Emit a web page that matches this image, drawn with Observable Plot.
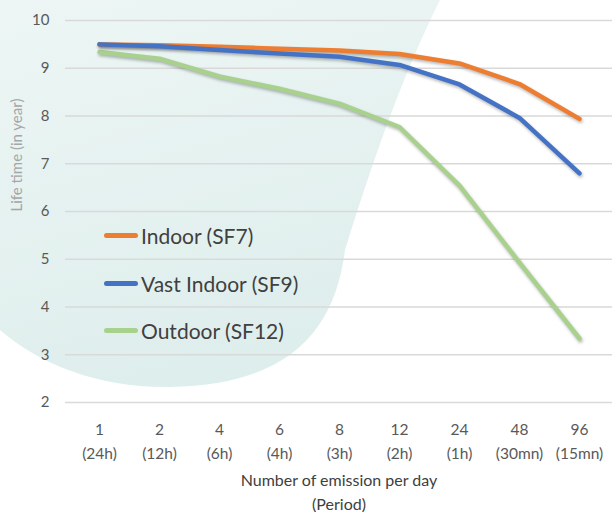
<!DOCTYPE html>
<html>
<head>
<meta charset="utf-8">
<script src="https://cdn.jsdelivr.net/npm/d3@7"></script>
<script src="https://cdn.jsdelivr.net/npm/@observablehq/plot@0.6"></script>
<style>
  html, body { margin: 0; padding: 0; background: #ffffff; }
  #wrap { position: relative; width: 612px; height: 512px; overflow: hidden; font-family: Lato, "Open Sans", sans-serif; }
  #bg { position: absolute; left: 0; top: 0; }
  #chart { position: absolute; left: 0; top: 0; }
  #chart svg { background: transparent !important; }
  #chart g[aria-label="line"] path { filter: drop-shadow(1px 2px 1.5px rgba(0,0,0,0.28)); }
  .legend { position: absolute; left: 104px; top: 0; }
  .item { position: absolute; left: 0; white-space: nowrap; display: flex; align-items: center; font-size: 21px; color: #404040; }
  .sw { width: 34px; height: 5px; border-radius: 2.5px; margin-right: 3px; }
</style>
</head>
<body>
<div id="wrap">
  <svg id="bg" width="612" height="512">
    <defs>
      <linearGradient id="g" x1="0" y1="0" x2="0.3" y2="1">
        <stop offset="0" stop-color="#edf6f5"/>
        <stop offset="1" stop-color="#deeeec"/>
      </linearGradient>
    </defs>
    <path d="M0,0 L440,0 C400,80 370,170 345,250 C335,330 290,385 170,387 C100,388 40,365 0,330 Z" fill="url(#g)"/>
  </svg>
  <div id="chart"></div>
  <div class="legend" id="legend"></div>
</div>
<script>
const categories = ["1", "2", "4", "6", "8", "12", "24", "48", "96"];
const periods = ["(24h)", "(12h)", "(6h)", "(4h)", "(3h)", "(2h)", "(1h)", "(30mn)", "(15mn)"];
const seriesNames = ["Indoor (SF7)", "Vast Indoor (SF9)", "Outdoor (SF12)"];
const seriesColors = ["#ED7D31", "#4472C4", "#A9D18E"];
const indoor = [9.50, 9.48, 9.45, 9.41, 9.37, 9.30, 9.10, 8.67, 7.94];
const vastIndoor = [9.50, 9.46, 9.38, 9.31, 9.24, 9.07, 8.66, 7.96, 6.80];
const outdoor = [9.34, 9.20, 8.83, 8.57, 8.26, 7.77, 6.54, 4.93, 3.34];
const yTicks = [2, 3, 4, 5, 6, 7, 8, 9, 10];

const rows = (vals, s) => vals.map((v, i) => ({cat: categories[i], value: v, series: s}));
const dIndoor = rows(indoor, seriesNames[0]);
const dVast = rows(vastIndoor, seriesNames[1]);
const dOut = rows(outdoor, seriesNames[2]);

const chart = Plot.plot({
  width: 612,
  height: 512,
  marginLeft: 65,
  marginRight: 0,
  marginTop: 20,
  marginBottom: 110,
  style: { fontFamily: "Lato, 'Open Sans', sans-serif", fontSize: "15px", color: "#595959", background: "transparent" },
  x: { type: "point", domain: categories, padding: 0.5, axis: null },
  y: { domain: [2, 10], ticks: yTicks, tickSize: 0, tickPadding: 16, label: null, tickFormat: d => String(d) },
  marks: [
    Plot.ruleY(yTicks, { stroke: "#d9d9d9", strokeWidth: 1.3 }),
    Plot.line(dOut, { x: "cat", y: "value", stroke: seriesColors[2], strokeWidth: 4.5, strokeLinecap: "round", strokeLinejoin: "round" }),
    Plot.line(dIndoor, { x: "cat", y: "value", stroke: seriesColors[0], strokeWidth: 4.5, strokeLinecap: "round", strokeLinejoin: "round" }),
    Plot.line(dVast, { x: "cat", y: "value", stroke: seriesColors[1], strokeWidth: 4.5, strokeLinecap: "round", strokeLinejoin: "round" }),
    Plot.text(categories, { x: d => d, text: (d, i) => d + "\n" + periods[i], frameAnchor: "bottom", lineAnchor: "middle", dy: 36.5, lineHeight: 1.55, fontSize: 15.5, fill: "#595959" }),
    Plot.text(["Number of emission per day\n(Period)"], { frameAnchor: "bottom", lineAnchor: "middle", dy: 88, lineHeight: 1.45, fontSize: 16, fill: "#404040", text: d => d }),
    Plot.text(["Life time (in year)"], { frameAnchor: "left", rotate: -90, dx: -48, fontSize: 15, fill: "#a6a6a6", text: d => d })
  ]
});
document.getElementById("chart").appendChild(chart);

const legend = document.getElementById("legend");
const legendTops = [235, 283, 330];
seriesNames.forEach((name, i) => {
  const item = document.createElement("div");
  item.className = "item";
  item.style.top = (legendTops[i] - 13) + "px";
  item.style.height = "26px";
  const sw = document.createElement("div");
  sw.className = "sw";
  sw.style.background = seriesColors[i];
  const tx = document.createElement("span");
  tx.textContent = name;
  item.appendChild(sw);
  item.appendChild(tx);
  legend.appendChild(item);
});
</script>
</body>
</html>
